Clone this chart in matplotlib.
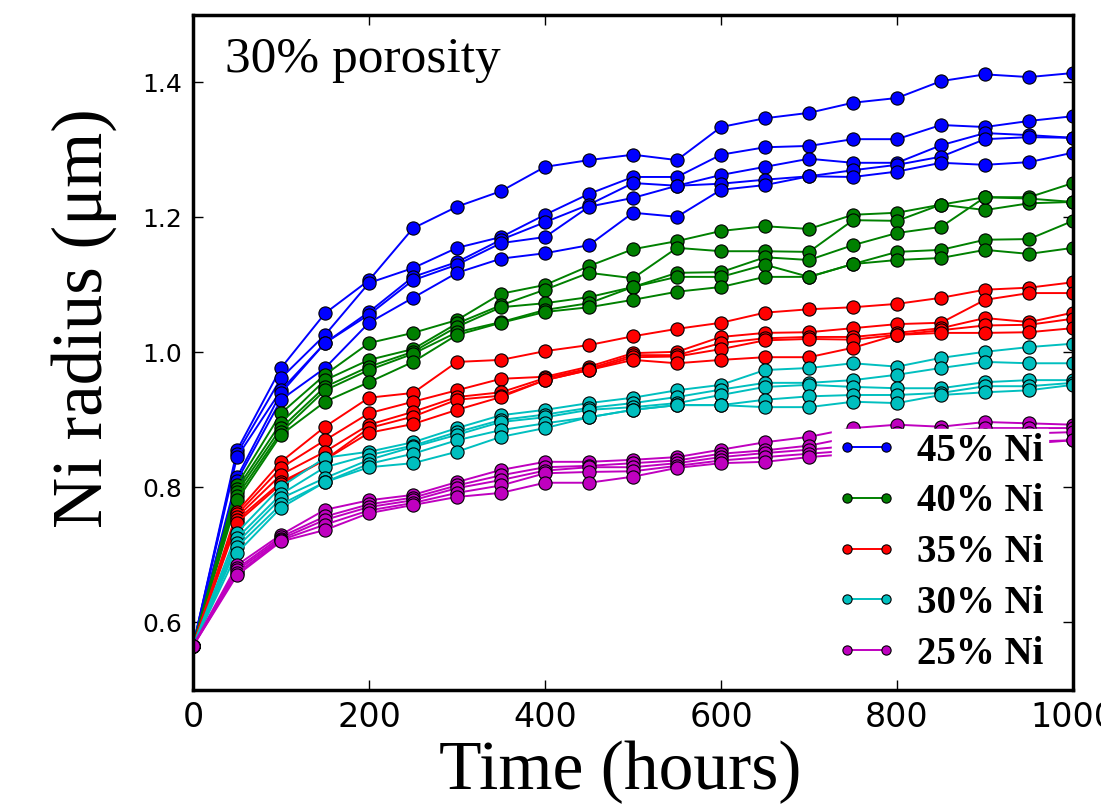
import numpy as np
import matplotlib
matplotlib.use("Agg")
import matplotlib.pyplot as plt

time = [0, 50, 100, 150, 200, 250, 300, 350, 400, 450, 500,
        550, 600, 650, 700, 750, 800, 850, 900, 950, 1000]

LABELS = ["45% Ni", "40% Ni", "35% Ni", "30% Ni", "25% Ni"]
COLORS = ["b", "g", "r", "c", "m"]

ni45 = [
    [0.565, 0.855, 0.977, 1.058, 1.107, 1.184, 1.216, 1.239, 1.275, 1.285, 1.293, 1.285, 1.334, 1.347, 1.355, 1.370, 1.377, 1.402, 1.412, 1.408, 1.414],
    [0.565, 0.850, 0.962, 1.026, 1.103, 1.125, 1.155, 1.171, 1.204, 1.235, 1.260, 1.260, 1.293, 1.304, 1.306, 1.316, 1.316, 1.337, 1.334, 1.343, 1.350],
    [0.565, 0.845, 0.944, 1.014, 1.060, 1.112, 1.134, 1.167, 1.193, 1.219, 1.251, 1.247, 1.263, 1.275, 1.287, 1.281, 1.281, 1.307, 1.325, 1.322, 1.318],
    [0.565, 0.815, 0.940, 1.014, 1.056, 1.107, 1.130, 1.162, 1.171, 1.216, 1.229, 1.247, 1.250, 1.256, 1.261, 1.270, 1.278, 1.290, 1.316, 1.319, 1.318],
    [0.565, 0.810, 0.930, 0.977, 1.044, 1.081, 1.118, 1.139, 1.147, 1.159, 1.207, 1.201, 1.241, 1.248, 1.261, 1.260, 1.268, 1.281, 1.278, 1.282, 1.296],
]
ni40 = [
    [0.565, 0.804, 0.910, 0.967, 1.014, 1.029, 1.048, 1.087, 1.100, 1.128, 1.153, 1.165, 1.180, 1.187, 1.183, 1.204, 1.207, 1.219, 1.230, 1.230, 1.251],
    [0.565, 0.798, 0.896, 0.959, 0.989, 1.005, 1.043, 1.070, 1.093, 1.118, 1.110, 1.155, 1.150, 1.150, 1.149, 1.196, 1.195, 1.219, 1.211, 1.221, 1.223],
    [0.565, 0.793, 0.888, 0.949, 0.979, 1.001, 1.038, 1.067, 1.073, 1.082, 1.097, 1.118, 1.119, 1.141, 1.137, 1.159, 1.177, 1.186, 1.230, 1.228, 1.223],
    [0.565, 0.787, 0.882, 0.944, 0.974, 0.998, 1.030, 1.045, 1.063, 1.073, 1.097, 1.112, 1.112, 1.130, 1.112, 1.131, 1.149, 1.152, 1.167, 1.168, 1.195],
    [0.565, 0.781, 0.878, 0.927, 0.956, 0.986, 1.026, 1.044, 1.060, 1.067, 1.078, 1.090, 1.097, 1.112, 1.112, 1.131, 1.137, 1.140, 1.152, 1.146, 1.155],
]
ni35 = [
    [0.565, 0.764, 0.838, 0.890, 0.933, 0.940, 0.986, 0.989, 1.002, 1.011, 1.024, 1.035, 1.044, 1.059, 1.064, 1.067, 1.072, 1.081, 1.093, 1.096, 1.104],
    [0.565, 0.760, 0.829, 0.870, 0.910, 0.927, 0.944, 0.961, 0.964, 0.979, 0.999, 1.001, 1.023, 1.029, 1.030, 1.036, 1.042, 1.044, 1.078, 1.088, 1.088],
    [0.565, 0.756, 0.819, 0.853, 0.893, 0.912, 0.934, 0.941, 0.962, 0.976, 0.996, 0.996, 1.014, 1.021, 1.023, 1.023, 1.029, 1.036, 1.051, 1.045, 1.059],
    [0.565, 0.752, 0.808, 0.841, 0.888, 0.905, 0.930, 0.936, 0.959, 0.974, 0.993, 0.994, 1.005, 1.018, 1.020, 1.019, 1.026, 1.033, 1.040, 1.041, 1.050],
    [0.565, 0.748, 0.805, 0.841, 0.881, 0.894, 0.915, 0.934, 0.959, 0.974, 0.989, 0.984, 0.989, 0.993, 0.993, 1.007, 1.026, 1.029, 1.029, 1.030, 1.036],
]
ni30 = [
    [0.565, 0.733, 0.801, 0.844, 0.853, 0.867, 0.888, 0.907, 0.915, 0.925, 0.933, 0.944, 0.952, 0.974, 0.977, 0.984, 0.979, 0.992, 1.001, 1.008, 1.013],
    [0.565, 0.725, 0.790, 0.830, 0.848, 0.862, 0.882, 0.900, 0.908, 0.918, 0.925, 0.934, 0.945, 0.955, 0.955, 0.959, 0.967, 0.977, 0.986, 0.984, 0.984],
    [0.565, 0.718, 0.784, 0.814, 0.841, 0.860, 0.878, 0.897, 0.904, 0.915, 0.919, 0.925, 0.937, 0.949, 0.952, 0.949, 0.947, 0.947, 0.956, 0.959, 0.959],
    [0.565, 0.712, 0.775, 0.808, 0.835, 0.850, 0.870, 0.885, 0.895, 0.904, 0.915, 0.922, 0.922, 0.930, 0.935, 0.937, 0.937, 0.940, 0.950, 0.950, 0.955],
    [0.565, 0.703, 0.770, 0.808, 0.830, 0.836, 0.853, 0.875, 0.888, 0.904, 0.915, 0.922, 0.922, 0.919, 0.919, 0.927, 0.925, 0.937, 0.941, 0.944, 0.952],
]
ni25 = [
    [0.565, 0.685, 0.730, 0.767, 0.781, 0.789, 0.808, 0.826, 0.838, 0.838, 0.841, 0.845, 0.856, 0.867, 0.875, 0.888, 0.893, 0.890, 0.897, 0.895, 0.893],
    [0.565, 0.680, 0.727, 0.757, 0.775, 0.785, 0.803, 0.818, 0.830, 0.832, 0.836, 0.840, 0.850, 0.855, 0.862, 0.875, 0.880, 0.884, 0.888, 0.888, 0.888],
    [0.565, 0.677, 0.724, 0.752, 0.771, 0.781, 0.799, 0.811, 0.825, 0.830, 0.830, 0.836, 0.845, 0.851, 0.856, 0.862, 0.868, 0.872, 0.878, 0.880, 0.882],
    [0.565, 0.673, 0.722, 0.745, 0.766, 0.777, 0.792, 0.803, 0.821, 0.823, 0.824, 0.832, 0.840, 0.845, 0.850, 0.855, 0.860, 0.862, 0.866, 0.868, 0.870],
    [0.565, 0.670, 0.720, 0.737, 0.762, 0.774, 0.786, 0.792, 0.807, 0.807, 0.816, 0.829, 0.836, 0.838, 0.845, 0.850, 0.855, 0.858, 0.862, 0.865, 0.870],
]
GROUPS = [ni45, ni40, ni35, ni30, ni25]

SERIF = ["Liberation Serif", "DejaVu Serif"]

fig = plt.figure(figsize=(11.01, 8.05), dpi=100)
ax = fig.add_axes([0.1753, 0.1429, 0.7993, 0.8385])

for runs, color, label in zip(GROUPS, COLORS, LABELS):
    for i, run in enumerate(runs):
        ax.plot(time, run, "-o", color=color, lw=1.4, markersize=9.5,
                markeredgecolor="k", markeredgewidth=0.8,
                label=label if i == 0 else None)

ax.set_xlim(0, 1000)
ax.set_ylim(0.5, 1.5)
ax.set_xticks([0, 200, 400, 600, 800, 1000])
ax.set_yticks([0.6, 0.8, 1.0, 1.2, 1.4])
ax.tick_params(direction="in", length=7, width=1, top=True, right=True, pad=8)
ax.tick_params(axis="x", labelsize=24)
ax.tick_params(axis="y", labelsize=18)
for spine in ax.spines.values():
    spine.set_linewidth(2.5)

ax.set_xlabel("Time (hours)", family=SERIF, fontsize=50)
ax.xaxis.set_label_coords(0.485, -0.075)
ax.set_ylabel("Ni radius (μm)", family=SERIF, fontsize=51)
ax.yaxis.set_label_coords(-0.086, 0.551)
ax.text(0.036, 0.915, "30% porosity", transform=ax.transAxes,
        family=SERIF, fontsize=37)

leg = ax.legend(loc="lower right", bbox_to_anchor=(0.971, 0.0195),
                numpoints=2, markerscale=0.7,
                prop={"family": SERIF, "weight": "bold", "size": 28},
                handlelength=1.6, handletextpad=0.5, labelspacing=0.355,
                borderpad=0.1, borderaxespad=0.0, fancybox=False)
leg.get_frame().set_edgecolor("white")
leg.get_frame().set_alpha(1.0)

fig.savefig("out.png", dpi=100)
